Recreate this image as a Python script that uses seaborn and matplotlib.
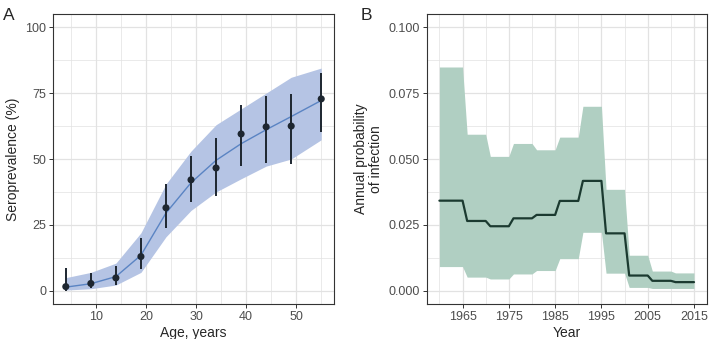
import matplotlib
matplotlib.use("Agg")
import matplotlib.pyplot as plt
import seaborn as sns
import pandas as pd
import numpy as np

# panel A: seroprevalence by age
age = [4, 9, 14, 19, 24, 29, 34, 39, 44, 49, 55]
obs = [1.6, 2.8, 4.9, 13.0, 31.5, 42.1, 46.6, 59.5, 62.2, 62.5, 72.8]
obs_lo = [0.0, 1.0, 2.3, 8.1, 23.7, 33.6, 35.9, 47.2, 48.5, 48.2, 60.4]
obs_hi = [8.6, 6.8, 9.6, 19.9, 40.6, 51.3, 57.9, 70.5, 73.9, 74.7, 82.5]
fit = [1.4, 2.7, 5.4, 13.5, 29.5, 41.0, 49.5, 55.8, 61.1, 66.1, 72.2]
fit_lo = [0.3, 0.8, 2.2, 7.0, 20.5, 30.5, 37.5, 42.5, 47.3, 50.0, 57.3]
fit_hi = [5.0, 7.0, 10.5, 22.0, 40.5, 53.0, 63.0, 69.0, 75.0, 81.0, 84.5]

# panel B: annual force of infection, constant within periods
period_start = [1960, 1966, 1971, 1976, 1981, 1986, 1991, 1996, 2001, 2006, 2011]
period_end = [1965, 1970, 1975, 1980, 1985, 1990, 1995, 2000, 2005, 2010, 2015]
foi = [0.0342, 0.0265, 0.0245, 0.0275, 0.0288, 0.0341, 0.0417, 0.0218, 0.0058, 0.0038, 0.0033]
foi_lo = [0.0092, 0.0052, 0.0045, 0.0064, 0.0077, 0.0122, 0.0222, 0.0067, 0.0013, 0.0009, 0.0009]
foi_hi = [0.0849, 0.0594, 0.0510, 0.0559, 0.0535, 0.0583, 0.0700, 0.0385, 0.0135, 0.0075, 0.0068]

df_a = pd.DataFrame({"age": age, "obs": obs, "lo": obs_lo, "hi": obs_hi,
                     "fit": fit, "fit_lo": fit_lo, "fit_hi": fit_hi})

rows = []
for s, e, v, l, h in zip(period_start, period_end, foi, foi_lo, foi_hi):
    rows.append((s, v, l, h))
    rows.append((e, v, l, h))
df_b = pd.DataFrame(rows, columns=["year", "foi", "lo", "hi"])

sns.set_theme(style="white")
plt.rcParams["font.family"] = ["Liberation Sans", "DejaVu Sans"]

fig = plt.figure(figsize=(7.09, 3.39), dpi=100)
ax1 = fig.add_axes([0.0748, 0.1032, 0.3963, 0.8555])
ax2 = fig.add_axes([0.6018, 0.1032, 0.3950, 0.8555])

grid_c = "#e2e2e2"
tick_c = "#4d4d4d"


def style(ax):
    ax.set_facecolor("white")
    for sp in ax.spines.values():
        sp.set_color("#333333")
        sp.set_linewidth(0.8)
        sp.set_visible(True)
    ax.grid(True, which="major", color=grid_c, linewidth=0.9)
    ax.grid(True, which="minor", color=grid_c, linewidth=0.5)
    ax.set_axisbelow(True)
    ax.tick_params(which="major", direction="out", length=3, width=0.7,
                   color="#333333", labelcolor=tick_c, labelsize=9, pad=2,
                   bottom=True, left=True)
    ax.tick_params(which="minor", length=0)


# panel A
ax1.fill_between(df_a["age"], df_a["fit_lo"], df_a["fit_hi"], color="#b5c4e4", lw=0)
sns.lineplot(data=df_a, x="age", y="fit", ax=ax1, color="#5a84c3", lw=1.0)
ax1.vlines(df_a["age"], df_a["lo"], df_a["hi"], color="#1d2630", lw=1.4)
sns.scatterplot(data=df_a, x="age", y="obs", ax=ax1, color="#1d2630", s=26,
                edgecolor="none", zorder=4)
ax1.set_xlim(1.45, 57.55)
ax1.set_ylim(-5, 105)
ax1.set_xticks([10, 20, 30, 40, 50])
ax1.set_xticks([5, 15, 25, 35, 45, 55], minor=True)
ax1.set_yticks([0, 25, 50, 75, 100])
ax1.set_yticks([12.5, 37.5, 62.5, 87.5], minor=True)
ax1.set_xlabel("Age, years", fontsize=10, labelpad=2)
ax1.set_ylabel("Seroprevalence (%)", fontsize=10, labelpad=4)
style(ax1)

# panel B
ax2.fill_between(df_b["year"], df_b["lo"], df_b["hi"], color="#b0cfc2", lw=0)
sns.lineplot(data=df_b, x="year", y="foi", ax=ax2, color="#1b3a30", lw=1.6,
             sort=False, estimator=None)
ax2.set_xlim(1957.25, 2017.75)
ax2.set_ylim(-0.005, 0.105)
ax2.set_xticks([1965, 1975, 1985, 1995, 2005, 2015])
ax2.set_xticks([1960, 1970, 1980, 1990, 2000, 2010], minor=True)
ax2.set_yticks([0, 0.025, 0.05, 0.075, 0.1])
ax2.set_yticklabels(["0.000", "0.025", "0.050", "0.075", "0.100"])
ax2.set_yticks([0.0125, 0.0375, 0.0625, 0.0875], minor=True)
ax2.set_xlabel("Year", fontsize=10, labelpad=2)
ax2.set_ylabel("Annual probability\nof infection", fontsize=10, labelpad=4,
               linespacing=1.1)
style(ax2)

fig.text(0.004, 0.975, "A", fontsize=12.5, va="top", ha="left")
fig.text(0.509, 0.975, "B", fontsize=12.5, va="top", ha="left")

fig.savefig("out.png", dpi=100)
